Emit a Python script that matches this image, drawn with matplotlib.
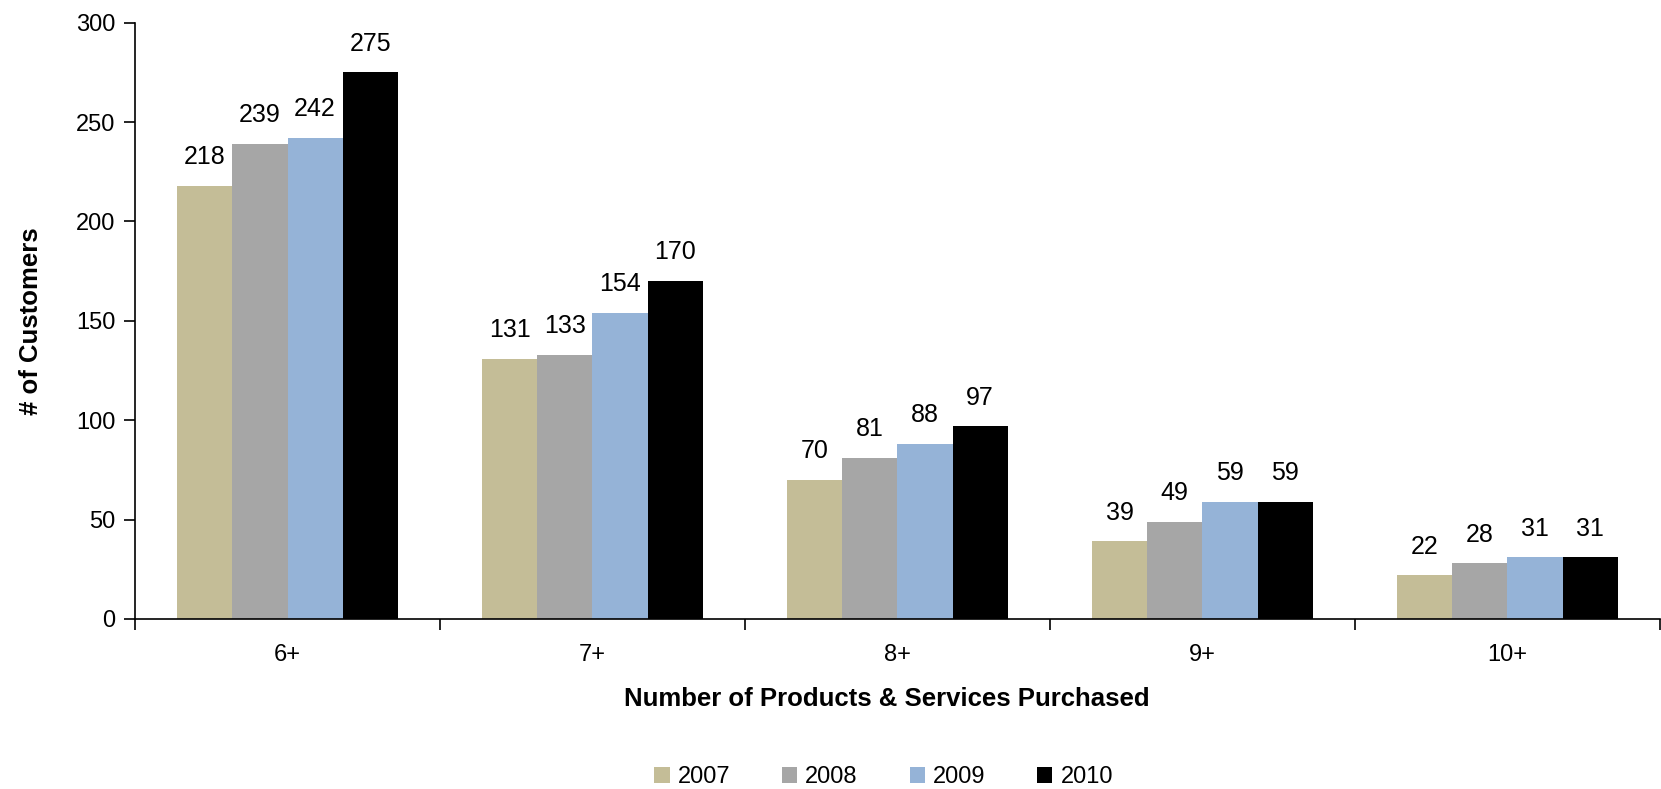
import matplotlib.pyplot as plt
import numpy as np

plt.rcParams['font.family'] = ['Liberation Sans', 'DejaVu Sans']

categories = ['6+', '7+', '8+', '9+', '10+']
years = ['2007', '2008', '2009', '2010']
v2007 = [218, 131, 70, 39, 22]
v2008 = [239, 133, 81, 49, 28]
v2009 = [242, 154, 88, 59, 31]
v2010 = [275, 170, 97, 59, 31]
colors = ['#C4BD97', '#A6A6A6', '#95B3D7', '#000000']

fig = plt.figure(figsize=(16.61, 7.89), dpi=100)
ax = fig.add_axes([0.0813, 0.2155, 0.918, 0.7557])

x = np.arange(len(categories))
w = 0.181
for i, (vals, yr) in enumerate(zip([v2007, v2008, v2009, v2010], years)):
    bars = ax.bar(x + (i - 1.5) * w, vals, w, color=colors[i], label=yr)
    ax.bar_label(bars, padding=12, fontsize=18)

ax.set_xlim(-0.5, len(categories) - 0.5)
ax.set_ylim(0, 300)
ax.set_yticks(range(0, 301, 50))
ax.tick_params(axis='y', labelsize=17, length=8, width=1.2, direction='out', pad=6)

# ticks between categories, labels in centre
ax.set_xticks(np.arange(-0.5, len(categories), 1))
ax.set_xticklabels([])
ax.set_xticks(x, minor=True)
ax.set_xticklabels(categories, minor=True, fontsize=17)
ax.tick_params(axis='x', which='major', length=8, width=1.2)
ax.tick_params(axis='x', which='minor', length=0, pad=18)

for s in ['top', 'right']:
    ax.spines[s].set_visible(False)
for s in ['left', 'bottom']:
    ax.spines[s].set_linewidth(1.2)

ax.set_xlabel('Number of Products & Services Purchased', fontsize=18.5, fontweight='bold', labelpad=15)
ax.xaxis.label.set_x(0.493)
ax.set_ylabel('# of Customers', fontsize=18.5, fontweight='bold', labelpad=24)

fig.legend(loc='center', bbox_to_anchor=(0.532, 0.015), ncol=4, frameon=False,
           fontsize=17, handlelength=0.64, handleheight=0.64, handletextpad=0.34,
           columnspacing=2.2)

fig.savefig('out.png', dpi=100)
